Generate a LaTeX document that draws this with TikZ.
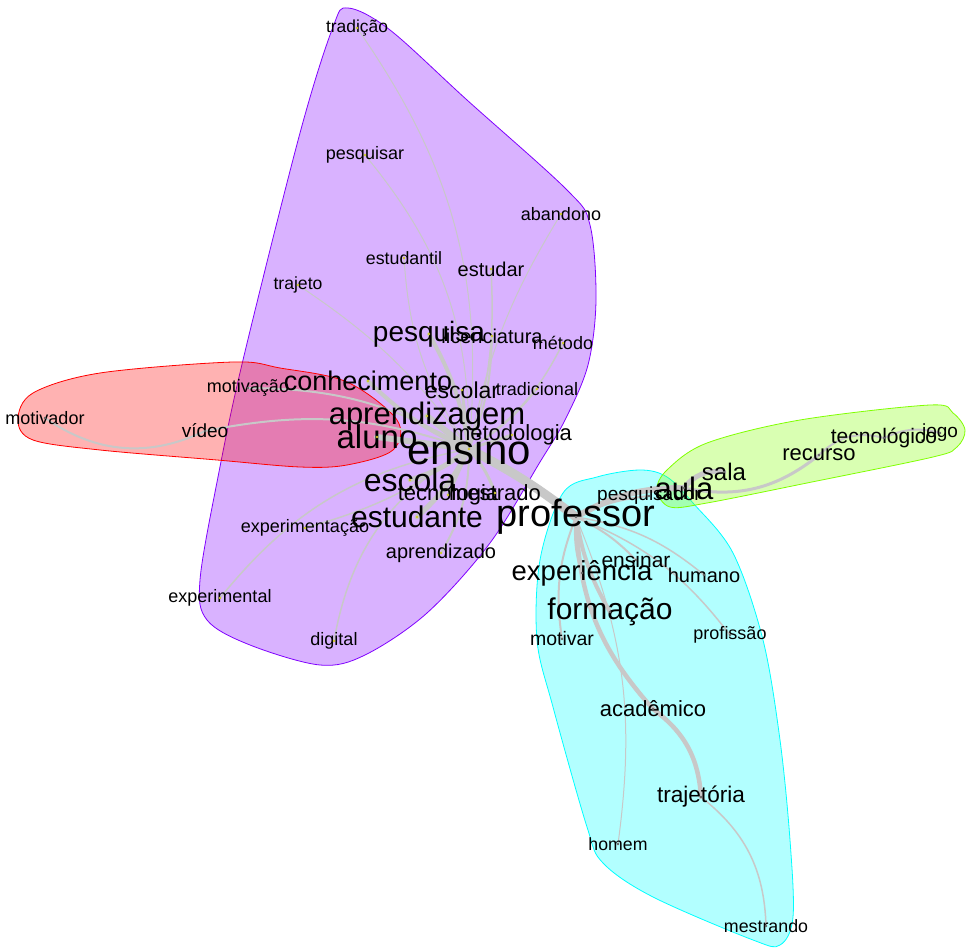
\documentclass[tikz,border=0pt]{standalone}
\usepackage{fontspec}
\setmainfont{Liberation Sans}
\usetikzlibrary{backgrounds}

\definecolor{edgegrey}{RGB}{200,200,200}
\definecolor{violetc}{RGB}{128,0,255}
\definecolor{redc}{RGB}{255,0,0}
\definecolor{cyanc}{RGB}{0,255,255}
\definecolor{limec}{RGB}{128,255,0}
\newcommand{\wsize}[1]{\fontsize{#1}{#1}\selectfont}

\begin{document}
\begin{tikzpicture}[
      x=1pt,y=-1pt,
      word/.style={inner sep=0pt,outer sep=0pt,text=black},
      lien/.style={draw=edgegrey,line cap=round},
      halo/.style={draw=#1,fill=#1,fill opacity=0.3,line width=0.8pt}]
      \useasboundingbox (0,0) rectangle (970,949);

      % Words, cluster ensino
      \node[word,font=\wsize{42}] (ensino)         at (469,449) {ensino};
      \node[word,font=\wsize{31}] (aprendizagem)   at (427,416) {aprendizagem};
      \node[word,font=\wsize{33}] (aluno)          at (377,437) {aluno};
      \node[word,font=\wsize{32}] (escola)         at (410,480) {escola};
      \node[word,font=\wsize{30}] (estudante)      at (417,517) {estudante};
      \node[word,font=\wsize{27}] (conhecimento)   at (368,381) {conhecimento};
      \node[word,font=\wsize{28}] (pesquisa)       at (429,334) {pesquisa};
      \node[word,font=\wsize{23}] (escolar)        at (462,390) {escolar};
      \node[word,font=\wsize{22}] (metodologia)    at (512,435) {metodologia};
      \node[word,font=\wsize{20}] (licenciatura)   at (492,336) {licenciatura};
      \node[word,font=\wsize{18}] (metodo)         at (563,343) {método};
      \node[word,font=\wsize{18}] (tradicional)    at (537,389) {tradicional};
      \node[word,font=\wsize{22}] (tecnologia)     at (448,495) {tecnologia};
      \node[word,font=\wsize{22}] (mestrado)       at (495,493) {mestrado};
      \node[word,font=\wsize{20}] (aprendizado)    at (441,553) {aprendizado};
      \node[word,font=\wsize{18}] (experimentacao) at (305,528) {experimentação};
      \node[word,font=\wsize{18}] (experimental)   at (220,598) {experimental};
      \node[word,font=\wsize{18}] (digital)        at (334,641) {digital};
      \node[word,font=\wsize{17.6}] (trajeto)      at (298,285) {trajeto};
      \node[word,font=\wsize{17.8}] (estudantil)   at (404,258) {estudantil};
      \node[word,font=\wsize{20}] (estudar)        at (491,269) {estudar};
      \node[word,font=\wsize{18}] (abandono)       at (561,214) {abandono};
      \node[word,font=\wsize{18}] (pesquisar)      at (365,155) {pesquisar};
      \node[word,font=\wsize{17.4}] (tradicao)     at (357,28)  {tradição};

      % Words, cluster video
      \node[word,font=\wsize{18}] (motivacao)      at (248,388) {motivação};
      \node[word,font=\wsize{19}] (video)          at (205,431) {vídeo};
      \node[word,font=\wsize{18}] (motivador)      at (45,418)  {motivador};

      % Words, cluster professor
      \node[word,font=\wsize{38}] (professor)      at (576,517) {professor};
      \node[word,font=\wsize{19}] (pesquisador)    at (649,496) {pesquisador};
      \node[word,font=\wsize{27.5}] (experiencia)  at (582,573) {experiência};
      \node[word,font=\wsize{21}] (ensinar)        at (636,560) {ensinar};
      \node[word,font=\wsize{20}] (humano)         at (704,575) {humano};
      \node[word,font=\wsize{30}] (formacao)       at (610,612) {formação};
      \node[word,font=\wsize{19.5}] (motivar)      at (562,639) {motivar};
      \node[word,font=\wsize{18}] (profissao)      at (730,635) {profissão};
      \node[word,font=\wsize{22}] (academico)      at (653,709) {acadêmico};
      \node[word,font=\wsize{22.6}] (trajetoria)   at (701,797) {trajetória};
      \node[word,font=\wsize{17.7}] (homem)        at (618,844) {homem};
      \node[word,font=\wsize{17.8}] (mestrando)    at (766,926) {mestrando};

      % Words, cluster aula
      \node[word,font=\wsize{31}] (aula)           at (684,488) {aula};
      \node[word,font=\wsize{24}] (sala)           at (724,472) {sala};
      \node[word,font=\wsize{22}] (recurso)        at (819,455) {recurso};
      \node[word,font=\wsize{21}] (tecnologico)    at (884,438) {tecnológico};
      \node[word,font=\wsize{19}] (jogo)           at (940,433) {jogo};

      % Dots
      \foreach \w in {ensino,aprendizagem,aluno,escola,estudante,conhecimento,pesquisa,
                      escolar,metodologia,licenciatura,metodo,tradicional,tecnologia,
                      mestrado,aprendizado,experimentacao,experimental,digital,trajeto,
                      estudantil,estudar,abandono,pesquisar,tradicao}
        \fill[yellow!80!black] (\w.center) circle (1.3);
      \foreach \w in {motivacao,video,motivador,professor,pesquisador,experiencia,ensinar,
                      humano,formacao,motivar,profissao,academico,trajetoria,homem,
                      mestrando,aula,sala,recurso,tecnologico,jogo}
        \fill[black!60] (\w.center) circle (1.3);

      \begin{pgfonlayer}{background}
      % Halos
      \path[halo=violetc] plot[smooth cycle,tension=0.55] coordinates {
        (348,8) (390,30) (467,100) (567,190) (590,225) (596,300) (588,365) (565,420)
        (540,462) (490,543) (427,613) (365,655) (320,665) (250,645) (207,620)
        (200,580) (218,477) (243,360) (300,133) (333,27)};
      \path[halo=cyanc] plot[smooth cycle,tension=0.55] coordinates {
        (597,477) (640,470) (667,477) (693,503) (733,553) (763,640) (780,740)
        (790,840) (793,917) (780,945) (753,940) (653,897) (603,863) (587,827)
        (553,707) (537,640) (540,560) (563,493)};
      \path[halo=limec] plot[smooth cycle,tension=0.55] coordinates {
        (667,470) (707,443) (800,420) (930,405) (953,413) (965,430) (957,447)
        (933,457) (807,483) (707,503) (670,507) (657,490)};
      \path[halo=redc] plot[smooth cycle,tension=0.55] coordinates {
        (18,420) (33,393) (100,373) (233,362) (280,368) (347,382) (397,420)
        (393,450) (347,465) (300,467) (217,460) (100,450) (33,440)};

      % Links
      \draw[lien,line width=9]   (ensino.center) to[bend left=5]   (professor.center);
      \draw[lien,line width=6]   (ensino.center) to                (aluno.center);
      \draw[lien,line width=6]   (ensino.center) to                (aprendizagem.center);
      \draw[lien,line width=5]   (ensino.center) to[bend left=10]  (escola.center);
      \draw[lien,line width=5]   (ensino.center) to[bend left=10]  (estudante.center);
      \draw[lien,line width=4]   (ensino.center) to[bend left=10]  (conhecimento.center);
      \draw[lien,line width=4]   (ensino.center) to[bend right=10] (pesquisa.center);
      \draw[lien,line width=3]   (ensino.center) to                (escolar.center);
      \draw[lien,line width=3]   (ensino.center) to                (metodologia.center);
      \draw[lien,line width=3]   (ensino.center) to                (tecnologia.center);
      \draw[lien,line width=3]   (ensino.center) to[bend left=10]  (mestrado.center);
      \draw[lien,line width=2]   (ensino.center) to[bend right=10] (licenciatura.center);
      \draw[lien,line width=1.5] (ensino.center) to[bend right=15] (metodo.center);
      \draw[lien,line width=1.5] (ensino.center) to[bend right=10] (tradicional.center);
      \draw[lien,line width=1.5] (ensino.center) to[bend right=10] (estudar.center);
      \draw[lien,line width=1]   (ensino.center) to[bend left=10]  (abandono.center);
      \draw[lien,line width=1]   (ensino.center) to[bend left=15]  (estudantil.center);
      \draw[lien,line width=1]   (ensino.center) to[bend right=20] (pesquisar.center);
      \draw[lien,line width=1]   (ensino.center) to[bend right=20] (tradicao.center);
      \draw[lien,line width=1]   (ensino.center) to[bend right=10] (trajeto.center);
      \draw[lien,line width=2]   (ensino.center) to[bend left=15]  (aprendizado.center);
      \draw[lien,line width=1.5] (ensino.center) to[bend left=10]  (experimentacao.center);
      \draw[lien,line width=1.5] (ensino.center) to[bend right=20] (experimental.center);
      \draw[lien,line width=1.5] (ensino.center) to[bend right=25] (digital.center);
      \draw[lien,line width=2]   (ensino.center) to[bend right=15] (motivacao.center);
      \draw[lien,line width=2]   (ensino.center) to[bend right=15] (video.center);
      \draw[lien,line width=2]   (video.center)  to[bend left=30]  (motivador.center);

      \draw[lien,line width=6]   (professor.center) to[bend left=15]  (aula.center);
      \draw[lien,line width=2]   (professor.center) to[bend left=10]  (pesquisador.center);
      \draw[lien,line width=3]   (professor.center) to[bend right=10] (experiencia.center);
      \draw[lien,line width=2]   (professor.center) to[bend left=10]  (ensinar.center);
      \draw[lien,line width=1.5] (professor.center) to[bend left=15]  (humano.center);
      \draw[lien,line width=4]   (professor.center) to[bend right=10] (formacao.center);
      \draw[lien,line width=2]   (professor.center) to[bend right=15] (motivar.center);
      \draw[lien,line width=1.5] (professor.center) to[bend left=15]  (profissao.center);
      \draw[lien,line width=4.5] (professor.center) to[bend right=20] (academico.center);
      \draw[lien,line width=1]   (professor.center) to[bend left=15]  (homem.center);
      \draw[lien,line width=4.5] (academico.center) to[bend left=25]  (trajetoria.center);
      \draw[lien,line width=1.5] (trajetoria.center) to[bend left=25] (mestrando.center);

      \draw[lien,line width=5]   (aula.center)    to[bend left=30]  (sala.center);
      \draw[lien,line width=3]   (aula.center)    to[bend right=25] (recurso.center);
      \draw[lien,line width=2]   (recurso.center) to[bend left=30]  (tecnologico.center);
      \draw[lien,line width=2]   (tecnologico.center) to[bend left=20] (jogo.center);
      \end{pgfonlayer}

    \end{tikzpicture}
\end{document}
